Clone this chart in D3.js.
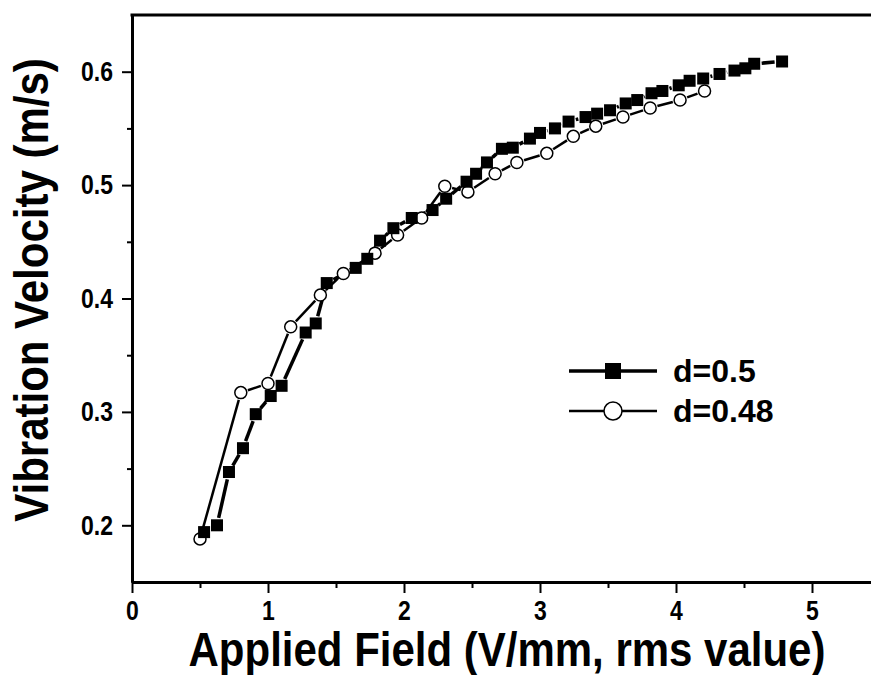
<!DOCTYPE html>
<html>
<head>
<meta charset="utf-8">
<script src="https://cdn.jsdelivr.net/npm/d3@7"></script>
<style>
  body { margin: 0; background: #fff; }
  text { font-family: "Liberation Sans", Arial, sans-serif; font-weight: bold; }
</style>
</head>
<body>
<div id="chart"></div>
<script>
// Data
const fieldA = [0.53, 0.625, 0.713, 0.816, 0.91, 1.02, 1.10, 1.277, 1.351, 1.432, 1.645, 1.73, 1.824, 1.922,
    2.057, 2.21, 2.31, 2.46, 2.53, 2.61, 2.72, 2.80, 2.926, 3.0, 3.11, 3.21, 3.335, 3.42, 3.515, 3.63,
    3.715, 3.82, 3.90, 4.02, 4.10, 4.20, 4.32, 4.43, 4.51, 4.575, 4.78];
const velA = [0.194, 0.200, 0.247, 0.268, 0.298, 0.314, 0.323, 0.370, 0.378, 0.4136, 0.427, 0.435, 0.451, 0.462,
    0.471, 0.478, 0.488, 0.503, 0.510, 0.520, 0.532, 0.533, 0.541, 0.546, 0.550, 0.556, 0.560, 0.563, 0.566, 0.572,
    0.575, 0.581, 0.583, 0.588, 0.592, 0.594, 0.598, 0.601, 0.603, 0.607, 0.609];
const fieldB = [0.50, 0.80, 1.00, 1.167, 1.385, 1.554, 1.787, 1.953, 2.13, 2.30, 2.47, 2.67, 2.83, 3.05,
    3.245, 3.41, 3.61, 3.81, 4.03, 4.21];
const velB = [0.188, 0.317, 0.325, 0.375, 0.403, 0.422, 0.440, 0.456, 0.471, 0.499, 0.494, 0.510, 0.520, 0.528,
    0.543, 0.552, 0.560, 0.568, 0.575, 0.583];
const seriesNames = ["d=0.5", "d=0.48"];
const xTicks = [0, 1, 2, 3, 4, 5];
const xMinor = [0.5, 1.5, 2.5, 3.5, 4.5];
const yTicks = [0.2, 0.3, 0.4, 0.5, 0.6];
const yMinor = [0.25, 0.35, 0.45, 0.55];

const W = 871, H = 675;
const padLeft = 132, padTop = 15, axisBottom = 582;

const svg = d3.select("#chart").append("svg")
    .attr("width", W)
    .attr("height", H);

const x = d3.scaleLinear().domain([0, 5.5]).range([padLeft, 880]);
const y = d3.scaleLinear().domain([0.15, 0.65]).range([axisBottom, padTop]);

// Axes (the original text is slightly stretched vertically)
const axStyle = g => {
    g.selectAll("path.domain").attr("stroke", "#000").attr("stroke-width", 3);
    g.selectAll(".tick line").attr("stroke", "#000").attr("stroke-width", 2);
    g.selectAll(".tick text").attr("fill", "#000")
        .style("font-size", "23px")
        .attr("transform", "scale(1,1.2)");
};

svg.append("g")
    .attr("transform", `translate(0,${axisBottom})`)
    .call(d3.axisBottom(x).tickValues(xMinor).tickSize(6).tickSizeOuter(0).tickFormat(""))
    .call(axStyle);
svg.append("g")
    .attr("transform", `translate(0,${axisBottom})`)
    .call(d3.axisBottom(x).tickValues(xTicks).tickSize(11).tickSizeOuter(0).tickPadding(4).tickFormat(d3.format("d")))
    .call(axStyle);

svg.append("g")
    .attr("transform", `translate(${padLeft},0)`)
    .call(d3.axisLeft(y).tickValues(yMinor).tickSize(5).tickSizeOuter(0).tickFormat(""))
    .call(axStyle);
svg.append("g")
    .attr("transform", `translate(${padLeft},0)`)
    .call(d3.axisLeft(y).tickValues(yTicks).tickSize(10).tickSizeOuter(0).tickPadding(9).tickFormat(d3.format(".1f")))
    .call(axStyle);

// top frame line
svg.append("line")
    .attr("x1", padLeft - 1.5).attr("x2", W)
    .attr("y1", padTop).attr("y2", padTop)
    .attr("stroke", "#000").attr("stroke-width", 3);

// Axis titles
svg.append("text")
    .attr("transform", "translate(507,666) scale(1,1.13)")
    .attr("text-anchor", "middle")
    .style("font-size", "42px")
    .text("Applied Field (V/mm, rms value)");

svg.append("text")
    .attr("transform", "translate(48,290) rotate(-90) scale(1,1.13)")
    .attr("text-anchor", "middle")
    .style("font-size", "42px")
    .text("Vibration Velocity (m/s)");

// Lines with gaps around symbols
function gappedLine(xs, ys, gap, width) {
    const pts = xs.map((v, i) => [x(v), y(ys[i])]);
    for (let i = 0; i < pts.length - 1; i++) {
        const [x0, y0] = pts[i], [x1, y1] = pts[i + 1];
        const len = Math.hypot(x1 - x0, y1 - y0);
        if (len <= 2 * gap) continue;
        const ux = (x1 - x0) / len, uy = (y1 - y0) / len;
        svg.append("line")
            .attr("x1", x0 + ux * gap).attr("y1", y0 + uy * gap)
            .attr("x2", x1 - ux * gap).attr("y2", y1 - uy * gap)
            .attr("stroke", "#000").attr("stroke-width", width);
    }
}

gappedLine(fieldB, velB, 7.5, 2.5);
gappedLine(fieldA, velA, 7.5, 3.5);

// Circles (d=0.48)
svg.append("g").selectAll("circle")
    .data(fieldB.map((v, i) => ({ f: v, v: velB[i] })))
    .join("circle")
    .attr("cx", d => x(d.f))
    .attr("cy", d => y(d.v))
    .attr("r", 6)
    .attr("fill", "#fff")
    .attr("stroke", "#000")
    .attr("stroke-width", 1.5);

// Squares (d=0.5)
const sq = 12;
svg.append("g").selectAll("rect")
    .data(fieldA.map((v, i) => ({ f: v, v: velA[i] })))
    .join("rect")
    .attr("x", d => x(d.f) - sq / 2)
    .attr("y", d => y(d.v) - sq / 2)
    .attr("width", sq)
    .attr("height", sq)
    .attr("fill", "#000");

// Legend
const lg = svg.append("g");
lg.append("line").attr("x1", 569).attr("x2", 657).attr("y1", 371).attr("y2", 371)
    .attr("stroke", "#000").attr("stroke-width", 3.5);
lg.append("rect").attr("x", 613 - 8).attr("y", 371 - 8).attr("width", 16).attr("height", 16).attr("fill", "#000");
lg.append("text").attr("x", 673).attr("y", 382).style("font-size", "32px").text(seriesNames[0]);

lg.append("line").attr("x1", 569).attr("x2", 657).attr("y1", 411).attr("y2", 411)
    .attr("stroke", "#000").attr("stroke-width", 2.5);
lg.append("circle").attr("cx", 613).attr("cy", 411).attr("r", 9)
    .attr("fill", "#fff").attr("stroke", "#000").attr("stroke-width", 1.5);
lg.append("text").attr("x", 673).attr("y", 422).style("font-size", "32px").text(seriesNames[1]);
</script>
</body>
</html>
